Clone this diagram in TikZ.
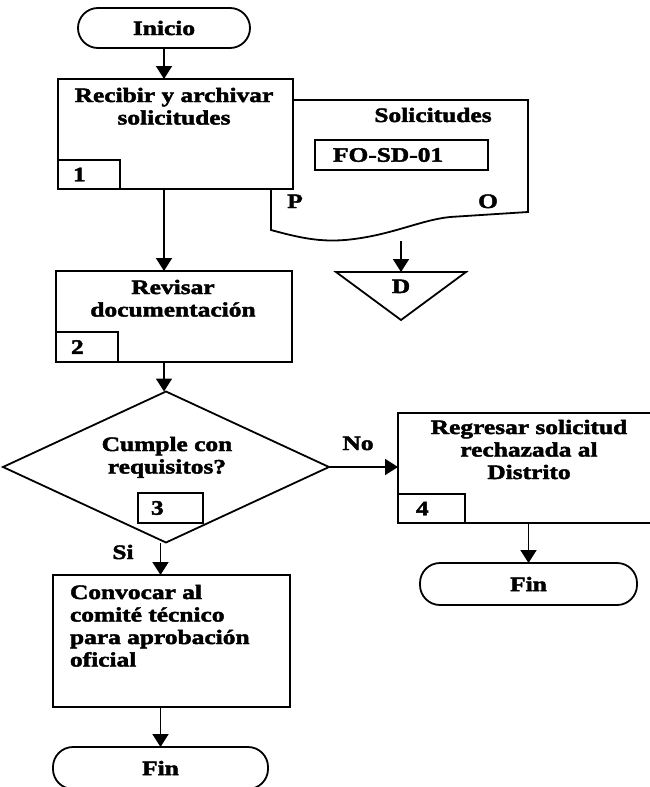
\documentclass[tikz,border=0pt]{standalone}
\usepackage{fontspec}
\setmainfont{Liberation Serif}[FakeStretch=1.24, FakeBold=2.2]
\usetikzlibrary{arrows.meta,shapes.geometric}

% multi-line labels whose base anchor is the first baseline
\newcommand\mlc[1]{\begin{tabular}[t]{@{}c@{}}#1\end{tabular}}
\newcommand\mll[1]{\begin{tabular}[t]{@{}l@{}}#1\end{tabular}}

\tikzset{
  ln/.style={line width=1.8pt},
  box/.style={ln, draw, rectangle, fill=white, inner sep=0pt, outer sep=0pt},
  term/.style={ln, draw, rectangle, rounded corners=20pt, inner sep=0pt, outer sep=0pt,
               font=\bfseries\fontsize{20.5}{22.5}\selectfont},
  txt/.style={inner sep=0pt, outer sep=0pt, font=\bfseries\fontsize{20.5}{22.5}\selectfont},
  arr/.style={ln, -{Triangle[width=16pt,length=13pt]}},
}

\begin{document}
\begin{tikzpicture}[x=1pt,y=-1pt]
\useasboundingbox (0,0) rectangle (649,787);

% start
\node[term, minimum width=172pt, minimum height=40pt] (ini) at (164,28) {Inicio};

% document symbol (partly behind step 1)
\draw[ln] (271,100) -- (528,100) -- (528,212) -- (450,217)
  .. controls (420,220) and (390,236) .. (345,240)
  .. controls (320,242) and (300,238) .. (271,230) -- cycle;
\node[txt] (doctitle) at (433,115) {Solicitudes};
\node[box, minimum width=173pt, minimum height=30pt, anchor=north west] (form) at (315,140) {};
\node[txt, anchor=west] (formt) at ([xshift=18pt]form.west) {FO-SD-01};
\node[txt, anchor=base] (docp) at (295,208) {P};
\node[txt, anchor=base] (doco) at (488,208) {O};
\coordinate (docb) at (401,241);

% file triangle
\draw[ln] (336,272) -- (466,272) -- (401,320) -- cycle;
\coordinate (tritop) at (401,272);
\node[txt, anchor=base] (trid) at (401,293) {D};

% step 1
\node[box, minimum width=235pt, minimum height=110pt, anchor=north west] (b1) at (58,79) {};
\node[box, minimum width=62pt, minimum height=29pt, anchor=south west] (n1) at (b1.south west) {};
\node[txt, anchor=west] (n1t) at ([xshift=15pt]n1.west) {1};
\node[txt, anchor=base] (t1) at (174,102) {\mlc{Recibir y archivar\\solicitudes}};

% step 2
\node[box, minimum width=236pt, minimum height=91pt, anchor=north west] (b2) at (56,271) {};
\node[box, minimum width=62pt, minimum height=30pt, anchor=south west] (n2) at (b2.south west) {};
\node[txt, anchor=west] (n2t) at ([xshift=15pt]n2.west) {2};
\node[txt, anchor=base] (t2) at (173,294) {\mlc{Revisar\\documentación}};

% decision 3
\node[ln, draw, diamond, minimum width=326pt, minimum height=151pt, inner sep=0pt, outer sep=0pt] (dia) at (166,467) {};
\node[txt, anchor=base] (t3) at (167,451) {\mlc{Cumple con\\requisitos?}};
\node[box, minimum width=65pt, minimum height=30pt, anchor=north west] (n3) at (138,493) {};
\node[txt, anchor=west] (n3t) at ([xshift=13pt]n3.west) {3};

% step 4
\node[box, minimum width=256pt, minimum height=110pt, anchor=north west] (b4) at (398,413) {};
\node[box, minimum width=67pt, minimum height=29pt, anchor=south west] (n4) at (b4.south west) {};
\node[txt, anchor=west] (n4t) at ([xshift=18pt]n4.west) {4};
\node[txt, anchor=base] (t4) at (529,434) {\mlc{Regresar solicitud\\rechazada al\\Distrito}};

% convene committee
\node[box, minimum width=237pt, minimum height=132pt, anchor=north west] (b5) at (53,575) {};
\node[txt, anchor=base west] (t5) at (70,599) {\mll{Convocar al\\comité técnico\\para aprobación\\oficial}};

% ends
\node[term, minimum width=217pt, minimum height=42pt] (fin2) at (528.5,584) {Fin};
\node[term, minimum width=215pt, minimum height=42pt] (fin1) at (160.5,768) {Fin};

% connectors
\draw[arr] (ini.south) -- (ini.south |- b1.north);
\draw[arr] (ini.south |- b1.south) -- (ini.south |- b2.north);
\draw[arr] (ini.south |- b2.south) -- (ini.south |- dia.north);
\draw[arr] (docb) -- (tritop);
\draw[arr] (dia.east) -- (dia.east -| b4.west);
\node[txt, anchor=base] (lno) at (358,450) {No};
\draw[arr] (fin2.north |- b4.south) -- (fin2.north);
\draw[arr] (fin1.north |- dia.south) -- (fin1.north |- b5.north);
\node[txt, anchor=base] (lsi) at (123,559) {Si};
\draw[arr] (fin1.north |- b5.south) -- (fin1.north);
\end{tikzpicture}
\end{document}
